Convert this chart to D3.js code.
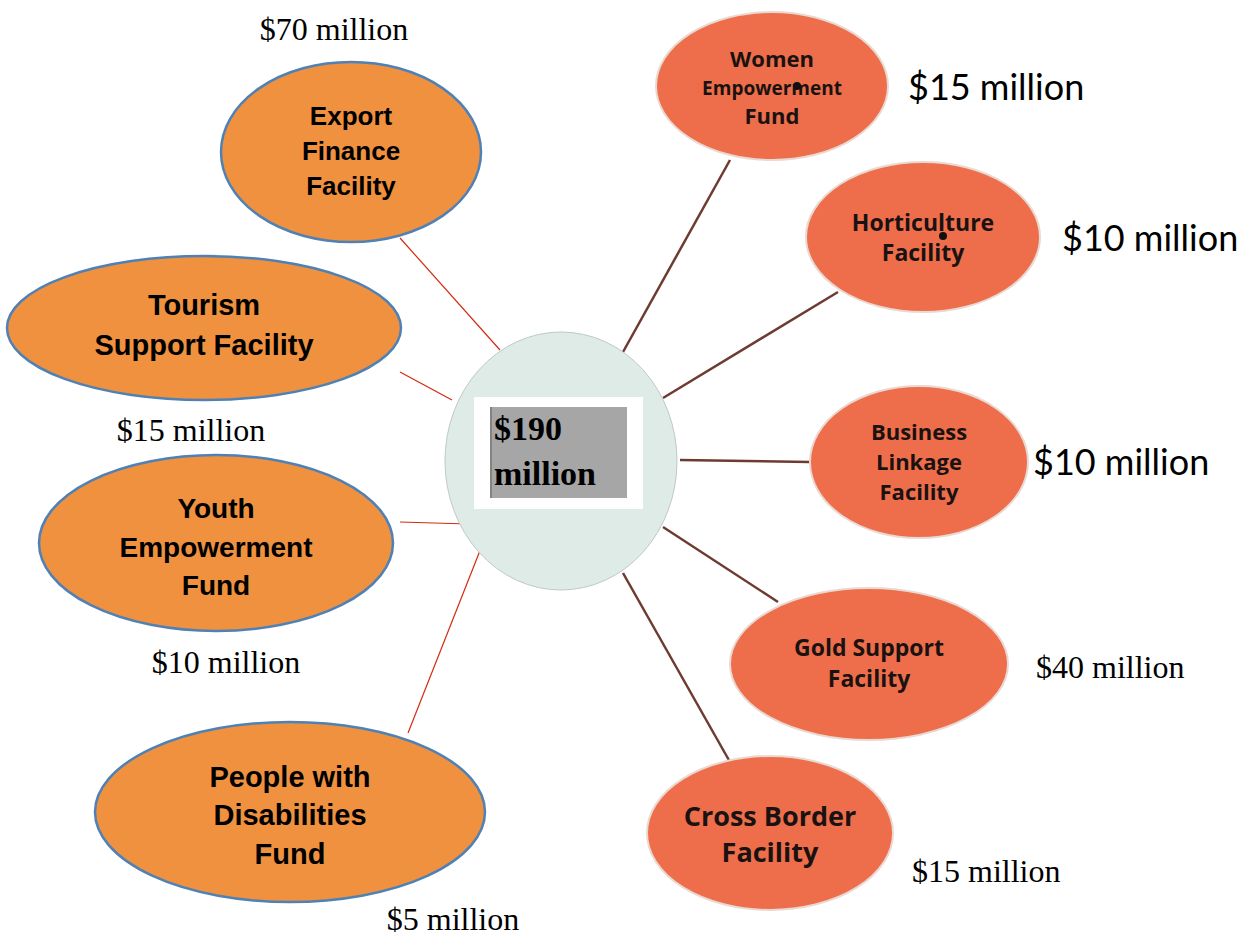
<!DOCTYPE html>
<html lang="en">
<head>
<meta charset="utf-8">
<title>Fund allocation, $190 million</title>
<script src="https://d3js.org/d3.v7.min.js"></script>
<style>
  body { margin: 0; background: #fff; }
</style>
</head>
<body>
<svg width="1245" height="936"></svg>
<script>
// ---- data ----
var total = "$190 million";
var leftFunds = [["Export", "Finance", "Facility"], ["Tourism", "Support Facility"], ["Youth", "Empowerment", "Fund"], ["People with", "Disabilities", "Fund"]];
var leftAmounts = [70, 15, 10, 5];
var rightFunds = [["Women", "Empowerment", "Fund"], ["Horticulture", "Facility"], ["Business", "Linkage", "Facility"], ["Gold Support", "Facility"], ["Cross Border", "Facility"]];
var rightAmounts = [15, 10, 10, 40, 15];

// ---- layout (pixels) ----
var hub = {cx: 561, cy: 461, rx: 116, ry: 129};
var leftNodes = [
  {cx: 351, cy: 152, rx: 130, ry: 90, ty: 151, fs: 26, lh: 35, from: [400, 238], to: [500, 350], lab: [334, 40, "middle"]},
  {cx: 204, cy: 328, rx: 197, ry: 72, ty: 325, fs: 29, lh: 40, from: [400, 372], to: [452, 400], lab: [191, 441, "middle"]},
  {cx: 216, cy: 543, rx: 177, ry: 88, ty: 547, fs: 28, lh: 38.5, from: [400, 522], to: [468, 524], lab: [226, 673, "middle"]},
  {cx: 290, cy: 812, rx: 195, ry: 90, ty: 815, fs: 29, lh: 38.5, from: [408, 733], to: [483, 543], lab: [453, 930, "middle"]}
];
var rightNodes = [
  {cx: 772, cy: 86, rx: 116, ry: 74, ty: 88, fs: [22, 19, 22], lh: 28.5, from: [730, 160], to: [623, 352], lab: [908, 100, "start"], big: true},
  {cx: 923, cy: 237, rx: 117, ry: 75, ty: 238, fs: [23, 23], lh: 30, from: [838, 292], to: [663, 398], lab: [1062, 251, "start"], big: true},
  {cx: 919, cy: 462, rx: 109, ry: 76, ty: 462, fs: [22, 22, 22], lh: 30, from: [810, 462], to: [680, 460], lab: [1033, 475, "start"], big: true},
  {cx: 869, cy: 664, rx: 139, ry: 76, ty: 663.5, fs: [23, 23], lh: 31, from: [778, 602], to: [663, 527], lab: [1036, 678, "start"], big: false},
  {cx: 770, cy: 833, rx: 123, ry: 77, ty: 835, fs: [27, 27], lh: 36, from: [730, 762], to: [623, 573], lab: [912, 882, "start"], big: false}
];

var svg = d3.select("svg");
var fmt = function(v) { return "$" + v + " million"; };
var serif = "Liberation Serif, Times New Roman, serif";

// connectors
svg.append("g").selectAll("line")
  .data(leftNodes).enter().append("line")
  .attr("x1", function(d) { return d.from[0]; })
  .attr("y1", function(d) { return d.from[1]; })
  .attr("x2", function(d) { return d.to[0]; })
  .attr("y2", function(d) { return d.to[1]; })
  .attr("stroke", "#d42a10").attr("stroke-width", 1.2);

svg.append("g").selectAll("line")
  .data(rightNodes).enter().append("line")
  .attr("x1", function(d) { return d.from[0]; })
  .attr("y1", function(d) { return d.from[1]; })
  .attr("x2", function(d) { return d.to[0]; })
  .attr("y2", function(d) { return d.to[1]; })
  .attr("stroke", "#6e3b30").attr("stroke-width", 2.5);

// hub
svg.append("ellipse")
  .attr("cx", hub.cx).attr("cy", hub.cy).attr("rx", hub.rx).attr("ry", hub.ry)
  .attr("fill", "#dfebe7").attr("stroke", "#bfc9c6").attr("stroke-width", 1);
svg.append("rect").attr("x", 474).attr("y", 397).attr("width", 169).attr("height", 112).attr("fill", "#fff");
svg.append("rect").attr("x", 490).attr("y", 407).attr("width", 137).attr("height", 91).attr("fill", "#a6a6a6");
svg.append("line").attr("x1", 491).attr("y1", 407).attr("x2", 491).attr("y2", 498).attr("stroke", "#777").attr("stroke-width", 1.5);
svg.append("g").selectAll("text")
  .data(total.split(" ")).enter().append("text")
  .attr("x", 494)
  .attr("y", function(d, i) { return 440 + i * 45; })
  .attr("font-family", serif)
  .attr("font-weight", "bold").attr("font-size", 34)
  .text(function(d) { return d; });

// left ellipses
var lg = svg.append("g").selectAll("g")
  .data(leftNodes.map(function(n, i) { return Object.assign({lines: leftFunds[i], amt: leftAmounts[i]}, n); }))
  .enter().append("g");
lg.append("ellipse")
  .attr("cx", function(d) { return d.cx; }).attr("cy", function(d) { return d.cy; })
  .attr("rx", function(d) { return d.rx; }).attr("ry", function(d) { return d.ry; })
  .attr("fill", "#f0913f").attr("stroke", "#4f81b5").attr("stroke-width", 2.5);
lg.each(function(d) {
  var g = d3.select(this), n = d.lines.length;
  g.selectAll("text.t").data(d.lines).enter().append("text")
    .attr("x", d.cx)
    .attr("y", function(t, i) { return d.ty + (i - (n - 1) / 2) * d.lh; })
    .attr("dy", "0.35em")
    .attr("text-anchor", "middle")
    .attr("font-family", "Liberation Sans, Arial, sans-serif")
    .attr("font-weight", "bold").attr("font-size", d.fs)
    .text(function(t) { return t; });
  g.append("text")
    .attr("x", d.lab[0]).attr("y", d.lab[1]).attr("text-anchor", d.lab[2])
    .attr("font-family", serif)
    .attr("font-size", 32)
    .text(fmt(d.amt));
});

// right ellipses
var rg = svg.append("g").selectAll("g")
  .data(rightNodes.map(function(n, i) { return Object.assign({lines: rightFunds[i], amt: rightAmounts[i]}, n); }))
  .enter().append("g");
rg.append("ellipse")
  .attr("cx", function(d) { return d.cx; }).attr("cy", function(d) { return d.cy; })
  .attr("rx", function(d) { return d.rx; }).attr("ry", function(d) { return d.ry; })
  .attr("fill", "#ee6e4b").attr("stroke", "#e9d9d2").attr("stroke-width", 2);
rg.each(function(d) {
  var g = d3.select(this), n = d.lines.length;
  g.selectAll("text.t").data(d.lines).enter().append("text")
    .attr("x", d.cx)
    .attr("y", function(t, i) { return d.ty + (i - (n - 1) / 2) * d.lh; })
    .attr("dy", "0.35em")
    .attr("text-anchor", "middle")
    .attr("font-family", "Open Sans, DejaVu Sans, sans-serif")
    .attr("font-weight", "bold")
    .attr("font-size", function(t, i) { return d.fs[i]; })
    .attr("fill", "#1a1210")
    .text(function(t) { return t; });
  g.append("text")
    .attr("x", d.lab[0]).attr("y", d.lab[1]).attr("text-anchor", d.lab[2])
    .attr("font-family", d.big ? "Lato, DejaVu Sans, sans-serif" : serif)
    .attr("font-size", d.big ? 36 : 32)
    .text(fmt(d.amt));
});

// stray dots in the original labels
svg.append("circle").attr("cx", 797).attr("cy", 86).attr("r", 4).attr("fill", "#111");
svg.append("circle").attr("cx", 943).attr("cy", 236).attr("r", 4).attr("fill", "#111");
</script>
</body>
</html>
